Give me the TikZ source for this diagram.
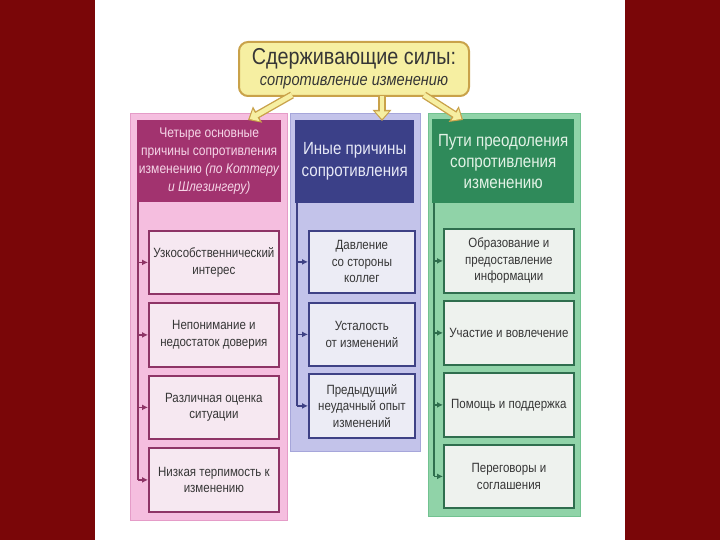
\documentclass[tikz,border=0pt]{standalone}
\usepackage{fontspec}
\setmainfont{Liberation Sans}[FakeStretch=0.86]
\usetikzlibrary{arrows.meta}
\definecolor{bord}{HTML}{7A0608}
\definecolor{ylfill}{HTML}{F6EFA2}
\definecolor{yldraw}{HTML}{C9A24A}
\definecolor{pkcol}{HTML}{F5BEDF}
\definecolor{pkline}{HTML}{E59CC8}
\definecolor{pkhead}{HTML}{A2336F}
\definecolor{pkhtext}{HTML}{F6D6E8}
\definecolor{pkbox}{HTML}{F6E8F1}
\definecolor{pkedge}{HTML}{8E3466}
\definecolor{blcol}{HTML}{C3C3EA}
\definecolor{blline}{HTML}{A6A6DA}
\definecolor{blhead}{HTML}{3B4088}
\definecolor{blhtext}{HTML}{E6E8F6}
\definecolor{blbox}{HTML}{ECECF5}
\definecolor{bledge}{HTML}{3E4185}
\definecolor{grcol}{HTML}{90D3A8}
\definecolor{grline}{HTML}{72C290}
\definecolor{grhead}{HTML}{2F8A5A}
\definecolor{grhtext}{HTML}{E2F2E6}
\definecolor{grbox}{HTML}{EEF2EE}
\definecolor{gredge}{HTML}{2F6E4E}
\definecolor{txt}{HTML}{363636}
\tikzset{
  colbox/.style={anchor=north west, inner sep=0pt, line width=1.2pt},
  headbox/.style={anchor=north west, inner sep=0pt, align=center},
  itembox/.style={anchor=north west, inner sep=0pt, line width=1.8pt, align=center,
     text=txt, font=\fontsize{13.4}{16.5}\selectfont},
  conn/.style={line width=1.5pt, -{Latex[length=6pt,width=6pt]}},
  yarrowout/.style={line width=7.5pt, draw=yldraw, -{Triangle[length=11pt,width=18pt]}},
  yarrowin/.style={line width=4.8pt, draw=ylfill, -{Triangle[length=7.5pt,width=13pt]}, shorten >=2pt}
}
\begin{document}
\begin{tikzpicture}[x=1pt,y=-1pt]
\useasboundingbox (0,0) rectangle (720,540);
\fill[bord] (0,0) rectangle (95,540);
\fill[bord] (625,0) rectangle (720,540);
\fill[white] (95,0) rectangle (625,540);

% columns
\node[colbox, fill=pkcol, draw=pkline, minimum width=157pt, minimum height=407pt] (cL) at (130,113) {};
\node[colbox, fill=blcol, draw=blline, minimum width=130pt, minimum height=338pt] (cM) at (290,113) {};
\node[colbox, fill=grcol, draw=grline, minimum width=152pt, minimum height=403pt] (cR) at (428,113) {};

% headers
\node[headbox, fill=pkhead, text=pkhtext, minimum width=144pt, minimum height=82pt,
  font=\fontsize{14}{18}\selectfont] (hL) at (137,120)
  {Четыре основные\\причины сопротивления\\изменению \textit{(по Коттеру}\\\textit{и Шлезингеру)}};
\node[headbox, fill=blhead, text=blhtext, minimum width=119pt, minimum height=83pt,
  font=\fontsize{17.6}{22}\selectfont] (hM) at (295,120)
  {Иные причины\\сопротивления};
\node[headbox, fill=grhead, text=grhtext, minimum width=142pt, minimum height=84pt,
  font=\fontsize{17.6}{21}\selectfont] (hR) at (432,119)
  {Пути преодоления\\сопротивления\\изменению};

% left items
\node[itembox, fill=pkbox, draw=pkedge, minimum width=130pt, minimum height=63pt] (l1) at (148,230) {Узкособственнический\\интерес};
\node[itembox, fill=pkbox, draw=pkedge, minimum width=130pt, minimum height=64pt] (l2) at (148,302) {Непонимание и\\недостаток доверия};
\node[itembox, fill=pkbox, draw=pkedge, minimum width=130pt, minimum height=63pt] (l3) at (148,375) {Различная оценка\\ситуации};
\node[itembox, fill=pkbox, draw=pkedge, minimum width=130pt, minimum height=64pt] (l4) at (148,447) {Низкая терпимость к\\изменению};

% middle items
\node[itembox, fill=blbox, draw=bledge, minimum width=106pt, minimum height=62pt] (m1) at (308,230) {Давление\\со стороны\\коллег};
\node[itembox, fill=blbox, draw=bledge, minimum width=106pt, minimum height=63pt] (m2) at (308,302) {Усталость\\от изменений};
\node[itembox, fill=blbox, draw=bledge, minimum width=106pt, minimum height=64pt] (m3) at (308,373) {Предыдущий\\неудачный опыт\\изменений};

% right items
\node[itembox, fill=grbox, draw=gredge, minimum width=130pt, minimum height=64pt] (r1) at (443,228) {Образование и\\предоставление\\информации};
\node[itembox, fill=grbox, draw=gredge, minimum width=130pt, minimum height=64pt] (r2) at (443,300) {Участие и вовлечение};
\node[itembox, fill=grbox, draw=gredge, minimum width=130pt, minimum height=64pt] (r3) at (443,372) {Помощь и поддержка};
\node[itembox, fill=grbox, draw=gredge, minimum width=130pt, minimum height=63pt] (r4) at (443,444) {Переговоры и\\соглашения};

% connectors left
\coordinate (vL) at (138,202);
\draw[line width=1.5pt, draw=pkedge] (vL) -- (l4.west -| vL);
\foreach \n in {l1,l2,l3,l4} \draw[conn, draw=pkedge] (\n.west -| vL) -- (\n.west);
% connectors middle
\coordinate (vM) at (297,203);
\draw[line width=1.5pt, draw=bledge] (vM) -- (m3.west -| vM);
\foreach \n in {m1,m2,m3} \draw[conn, draw=bledge] (\n.west -| vM) -- (\n.west);
% connectors right
\coordinate (vR) at (434,203);
\draw[line width=1.5pt, draw=gredge] (vR) -- (r4.west -| vR);
\foreach \n in {r1,r2,r3,r4} \draw[conn, draw=gredge] (\n.west -| vR) -- (\n.west);

% top box
\node[draw=yldraw, fill=ylfill, line width=2pt, rounded corners=9pt, minimum width=230pt,
  minimum height=54pt, align=center, text=txt, inner sep=2pt,
  font=\fontsize{23}{21}\selectfont] (top) at (354,69)
  {Сдерживающие силы:\\{\fontsize{17}{19}\selectfont\itshape сопротивление изменению}};

% yellow arrows
\coordinate (aL0) at (292,95);
\coordinate (aL1) at (248,120);
\coordinate (aM0) at (382,96);
\coordinate (aM1) at (382,121);
\coordinate (aR0) at (424,95);
\coordinate (aR1) at (463,120);
\foreach \a/\b in {aL0/aL1,aM0/aM1,aR0/aR1} {
  \draw[yarrowout] (\a) -- (\b);
  \draw[yarrowin] (\a) -- (\b);
}
\end{tikzpicture}
\end{document}
